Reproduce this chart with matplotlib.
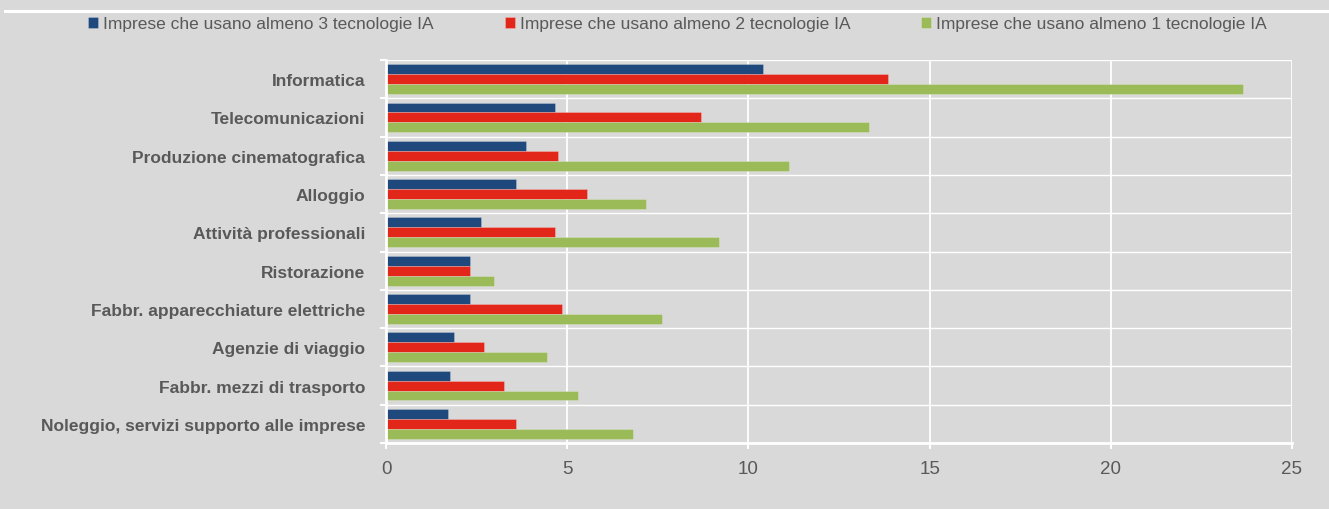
import numpy as np
import matplotlib
matplotlib.use("Agg")
from matplotlib import pyplot as plt
from matplotlib.lines import Line2D

plt.rcParams['font.family'] = ['Liberation Sans', 'DejaVu Sans']

categories = [
    "Informatica",
    "Telecomunicazioni",
    "Produzione cinematografica",
    "Alloggio",
    "Attività professionali",
    "Ristorazione",
    "Fabbr. apparecchiature elettriche",
    "Agenzie di viaggio",
    "Fabbr. mezzi di trasporto",
    "Noleggio, servizi supporto alle imprese",
]
almeno_3 = [10.4, 4.66, 3.86, 3.59, 2.62, 2.32, 2.32, 1.88, 1.77, 1.71]
almeno_2 = [13.85, 8.69, 4.75, 5.55, 4.66, 2.32, 4.86, 2.70, 3.26, 3.59]
almeno_1 = [23.65, 13.33, 11.12, 7.17, 9.19, 2.98, 7.62, 4.44, 5.30, 6.82]
series_labels = [
    "Imprese che usano almeno 3 tecnologie IA",
    "Imprese che usano almeno 2 tecnologie IA",
    "Imprese che usano almeno 1 tecnologie IA",
]
x_ticks = [0, 5, 10, 15, 20, 25]

bg = "#d9d9d9"
txt = "#595959"
colors = ["#1f497d", "#e3261a", "#9bbb59"]

fig = plt.figure(figsize=(13.29, 5.10), dpi=100, facecolor=bg)
ax = fig.add_axes([386 / 1329, 66 / 510, 906 / 1329, 383 / 510], facecolor=bg)

y = np.arange(len(categories))
h = 0.26
bars = []
for k, (vals, col, lab) in enumerate(zip([almeno_3, almeno_2, almeno_1], colors, series_labels)):
    b = ax.barh(y + (k - 1) * h, vals, height=h, color=col, label=lab, zorder=3,
                edgecolor=(1, 1, 1, 0.25), linewidth=0.6)
    bars.append(b)

ax.set_xlim(0, 25)
ax.set_ylim(len(categories) - 0.5, -0.5)
ax.set_xticks(x_ticks)
ax.set_yticks(y)
ax.set_yticklabels(categories, fontsize=12.5, fontweight='bold', color=txt)
ax.set_yticks(np.arange(-0.5, len(categories), 1), minor=True)
ax.tick_params(axis='y', which='major', length=0, pad=15)
ax.tick_params(axis='y', which='minor', length=4.5, width=1.5, color='white', direction='out')
ax.tick_params(axis='x', which='major', length=4, width=1.5, color='white', direction='out',
               labelsize=13.5, labelcolor=txt, pad=8)

ax.grid(axis='x', which='major', color='white', lw=1.3, zorder=1)
ax.grid(axis='y', which='minor', color='white', lw=1.0, zorder=1)

for s in ['top', 'right']:
    ax.spines[s].set_visible(False)
for s in ['left', 'bottom']:
    ax.spines[s].set_color('white')
    ax.spines[s].set_linewidth(2)
    ax.spines[s].set_zorder(4)

fig.legend(handles=bars, labels=series_labels, loc='center', ncol=3,
           bbox_to_anchor=(677.5 / 1329, 1 - 25 / 510), frameon=False,
           fontsize=12.5, labelcolor=txt, handlelength=0.575, handleheight=0.575,
           handletextpad=0.29, columnspacing=4.08, borderaxespad=0, borderpad=0)

fig.add_artist(Line2D([5 / 1329, 1.0], [1 - 11.7 / 510, 1 - 11.7 / 510],
                      transform=fig.transFigure, color='white', lw=2.2))

fig.savefig("out.png", dpi=100, facecolor=bg)
